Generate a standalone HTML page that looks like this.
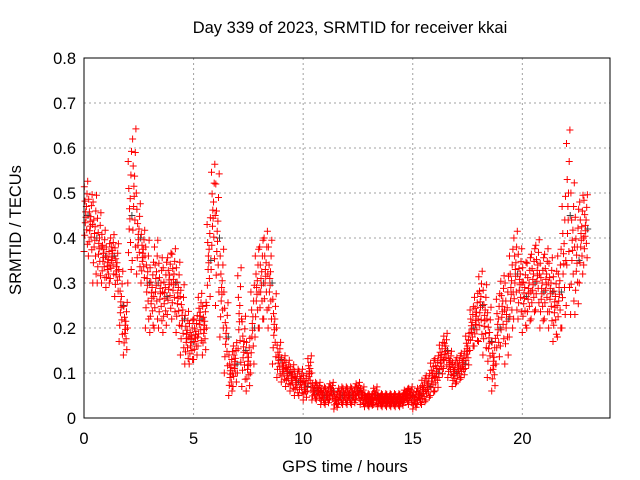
<!DOCTYPE html>
<html><head><meta charset="utf-8"><style>
body{margin:0;background:#fff}
svg{display:block;font-family:"Liberation Sans",sans-serif}
</style></head><body>
<svg id="chart" width="640" height="480">
<rect x="0" y="0" width="640" height="480" fill="#fff"/>
<text x="350" y="33" font-size="16.5" text-anchor="middle">Day 339 of 2023, SRMTID for receiver kkai</text>
<text x="345" y="472" font-size="16.5" text-anchor="middle">GPS time / hours</text>
<text x="21" y="230" font-size="16.5" text-anchor="middle" transform="rotate(-90 21 230)">SRMTID / TECUs</text>
<g id="grid"></g>
<g id="ticks"></g>
<g id="marks"></g>
<rect x="84" y="58" width="526" height="360" fill="none" stroke="#000" stroke-width="1"/>
</svg>
<script>
const xTicks=[0,5,10,15,20];
const yTicks=[0,0.1,0.2,0.3,0.4,0.5,0.6,0.7,0.8];
const yTickLabels=["0","0.1","0.2","0.3","0.4","0.5","0.6","0.7","0.8"];
const t0=0, tStep=0.2;
const midValues=[.45,.43,.40,.38,.36,.34,.36,.33,.25,.20,
.45,.50,.40,.36,.30,.27,.30,.28,.27,.30,
.30,.27,.22,.18,.17,.18,.22,.20,.35,.45,
.40,.28,.18,.10,.12,.22,.15,.12,.20,.28,
.30,.32,.30,.20,.13,.11,.10,.09,.08,.08,
.07,.10,.06,.06,.05,.05,.06,.04,.05,.05,
.05,.05,.06,.05,.04,.04,.05,.04,.04,.04,
.04,.04,.04,.05,.05,.04,.05,.06,.07,.09,
.10,.13,.15,.12,.10,.11,.12,.15,.20,.22,
.25,.22,.17,.12,.20,.24,.22,.28,.32,.30,
.27,.28,.30,.32,.28,.30,.28,.25,.28,.35,
.45,.38,.35,.40,.42];
const spreadValues=[.08,.07,.10,.08,.06,.05,.05,.06,.08,.06,
.15,.15,.08,.06,.10,.08,.10,.08,.08,.07,
.08,.08,.08,.06,.05,.05,.06,.06,.10,.12,
.15,.10,.08,.05,.05,.12,.08,.06,.10,.10,
.10,.10,.10,.08,.04,.03,.03,.03,.03,.03,
.03,.04,.02,.02,.02,.02,.02,.02,.02,.02,
.02,.02,.02,.02,.015,.015,.02,.015,.015,.015,
.015,.015,.015,.015,.02,.02,.02,.03,.03,.04,
.04,.04,.04,.03,.03,.03,.03,.04,.05,.06,
.08,.08,.08,.06,.08,.08,.10,.10,.10,.08,
.08,.08,.08,.08,.08,.08,.08,.08,.10,.15,
.20,.15,.12,.10,.08];
const offsets=[-1,0.8,-0.55,0.4,-0.2,0.1,-0.05,0.25,-0.4,0.6,-0.8,0.95,0];
const NS="http://www.w3.org/2000/svg";
const X0=84,X1=610,Y0=418,Y1=58;
function xs(t){return X0+t/24*(X1-X0);}
function ys(v){return Y0-v/0.8*(Y0-Y1);}
const grid=document.getElementById('grid'),ticks=document.getElementById('ticks'),marks=document.getElementById('marks');
xTicks.forEach(t=>{const x=xs(t);
 if(t>0){const l=document.createElementNS(NS,'line');l.setAttribute('x1',x);l.setAttribute('x2',x);l.setAttribute('y1',Y1);l.setAttribute('y2',Y0);l.setAttribute('stroke','#a0a0a0');l.setAttribute('stroke-dasharray','2,3');
 
 grid.appendChild(l);}
 const tx=document.createElementNS(NS,'text');tx.setAttribute('x',x);tx.setAttribute('y',444);tx.setAttribute('font-size','16.5');tx.setAttribute('text-anchor','middle');tx.textContent=String(t);
 
 ticks.appendChild(tx);});
yTicks.forEach((v,i)=>{const y=ys(v);
 if(v>0&&v<0.8){const l=document.createElementNS(NS,'line');l.setAttribute('x1',X0);l.setAttribute('x2',X1);l.setAttribute('y1',y);l.setAttribute('y2',y);l.setAttribute('stroke','#a0a0a0');l.setAttribute('stroke-dasharray','2,3');
 
 grid.appendChild(l);}
 const tx=document.createElementNS(NS,'text');tx.setAttribute('x',76);tx.setAttribute('y',y+6);tx.setAttribute('font-size','16.5');tx.setAttribute('text-anchor','end');tx.textContent=yTickLabels[i];
 
 ticks.appendChild(tx);});
let d='',dg='';
midValues.forEach((m,i)=>{const s=spreadValues[i];
 offsets.forEach((k,j)=>{const t=t0+i*tStep+j*tStep/offsets.length;let v=m+s*k;if(v<0.005)v=0.005;
  const x=xs(t),y=ys(v);const seg=`M${(x-3.5).toFixed(1)} ${y.toFixed(1)}h7M${x.toFixed(1)} ${(y-3.5).toFixed(1)}v7`;
  if(j===12&&i%2===0)dg+=seg;else d+=seg;});});
const pg=document.createElementNS(NS,'path');pg.setAttribute('d',dg);pg.setAttribute('stroke','#404040');pg.setAttribute('fill','none');

marks.appendChild(pg);
const pr=document.createElementNS(NS,'path');pr.setAttribute('d',d);pr.setAttribute('stroke','#ff0000');pr.setAttribute('fill','none');

marks.appendChild(pr);
</script>
</body></html>
